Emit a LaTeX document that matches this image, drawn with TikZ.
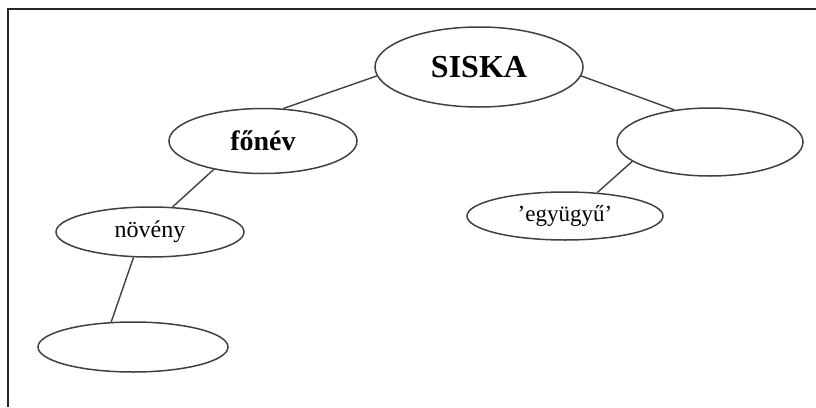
\documentclass[tikz,border=0pt]{standalone}
\usepackage{fontspec}
\setmainfont{Liberation Serif}
\usetikzlibrary{shapes.geometric}

\begin{document}
\begin{tikzpicture}[x=1pt,y=-1pt,
  elip/.style={draw=black!75,line width=1.5pt,ellipse,inner sep=0pt},
  vonal/.style={black!75,line width=1.4pt}]
\useasboundingbox (0,0) rectangle (816,407);
\draw[line width=1.8pt,black!85] (816,9)--(8,9)--(8,407);

\node[elip,minimum width=208pt,minimum height=80pt] (siska) at (479,67)
  {\fontsize{32}{34}\selectfont\bfseries SISKA};
\node[elip,minimum width=188pt,minimum height=65pt] (fonev) at (263,141)
  {\fontsize{28}{30}\selectfont\bfseries főnév};
\node[elip,minimum width=186pt,minimum height=68pt] (jobb) at (710,142) {};
\node[elip,minimum width=188pt,minimum height=50pt] (noveny) at (150,232)
  {\fontsize{24}{26}\selectfont növény};
\node[elip,minimum width=196pt,minimum height=48pt] (egyugyu) at (565,216)
  {\fontsize{23}{25}\selectfont ’együgyű’};
\node[elip,minimum width=190pt,minimum height=50pt] (also) at (133,347) {};

\draw[vonal] (siska.185)--(fonev.58);
\draw[vonal] (siska.355)--(jobb.138);
\draw[vonal] (fonev.210)--(noveny.48);
\draw[vonal] (jobb.194)--(egyugyu.36);
\draw[vonal] (noveny.237)--(also.131);
\end{tikzpicture}
\end{document}
